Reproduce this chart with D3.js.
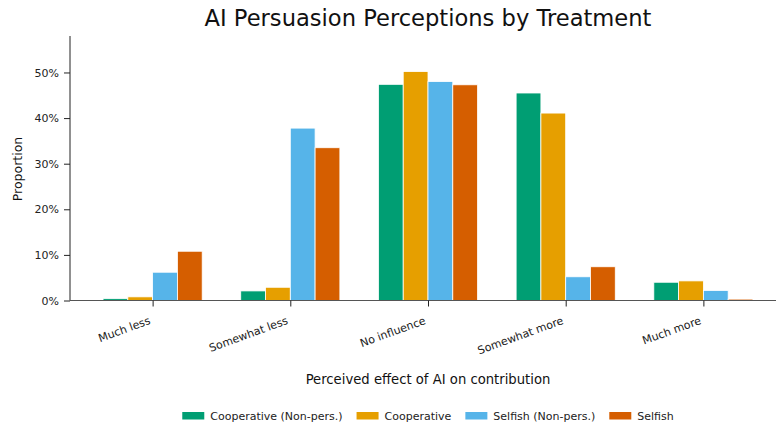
<!DOCTYPE html>
<html><head><meta charset="utf-8">
<script src="https://cdn.jsdelivr.net/npm/d3@7"></script>
<style>body{margin:0;background:#fff}svg{display:block;font-family:"DejaVu Sans",sans-serif}</style>
</head><body><svg id="c" width="776" height="428"></svg>
<script>
const categories = ["Much less","Somewhat less","No influence","Somewhat more","Much more"];
const seriesNames = ["Cooperative (Non-pers.)","Cooperative","Selfish (Non-pers.)","Selfish"];
const seriesColors = ["#009E73","#E69F00","#56B4E9","#D55E00"];
const coopNonPers = [0.004,0.021,0.474,0.455,0.040];
const coop        = [0.008,0.029,0.502,0.411,0.043];
const selfNonPers = [0.062,0.378,0.480,0.052,0.022];
const selfish     = [0.108,0.335,0.473,0.074,0.003];
const yTicks = [0,0.1,0.2,0.3,0.4,0.5];
const series = [coopNonPers, coop, selfNonPers, selfish];

const svg = d3.select("#c");
const x = d3.scaleLinear().domain([-0.6,4.6]).range([70,786]);
const y = d3.scaleLinear().domain([0,0.58]).range([300.5,36]);
const bw = 0.18;

// bars
series.forEach((vals,si)=>{
  svg.append("g").selectAll("rect").data(vals).join("rect")
    .attr("x",(d,i)=>x(i+(si-1.5)*bw-bw/2))
    .attr("width",x(bw)-x(0))
    .attr("y",d=>y(d))
    .attr("height",d=>y(0)-y(d))
    .attr("fill",seriesColors[si])
    .attr("stroke","#fff").attr("stroke-width",0.8);
});

// y axis
const ya = svg.append("g").attr("transform","translate(70,0)")
  .call(d3.axisLeft(y).tickValues(yTicks).tickFormat(d3.format(".0%")).tickSize(6).tickPadding(5));
ya.select(".domain").attr("d","M0,"+y(0)+"V36").attr("stroke","#222");
ya.selectAll(".tick line").attr("stroke","#222");
ya.selectAll("text").attr("font-size",11).attr("fill","#222").attr("font-family","DejaVu Sans");

// x axis
const xa = svg.append("g").attr("transform","translate(0,"+y(0)+")")
  .call(d3.axisBottom(x).tickValues(d3.range(categories.length)).tickFormat(i=>categories[i]).tickSize(6).tickPadding(4));
xa.select(".domain").attr("d","M70,0H786").attr("stroke","#555");
xa.selectAll(".tick line").attr("stroke","#222");
xa.selectAll(".tick text").attr("font-size",11).attr("fill","#222").attr("font-family","DejaVu Sans")
  .attr("text-anchor","end").attr("x",0).attr("y",0).attr("dy","0.78em")
  .attr("transform","translate(-5,15) rotate(-20)");

// titles
svg.append("text").attr("x",428).attr("y",26).attr("text-anchor","middle")
  .attr("font-size",22.6).attr("fill","#111").text("AI Persuasion Perceptions by Treatment");
svg.append("text").attr("x",428).attr("y",384).attr("text-anchor","middle")
  .attr("font-size",13.2).attr("fill","#111").text("Perceived effect of AI on contribution");
svg.append("text").attr("transform","translate(22,169) rotate(-90)").attr("text-anchor","middle")
  .attr("font-size",12.5).attr("fill","#111").text("Proportion");

// legend
const lg = svg.append("g").attr("font-size",11);
const widths = seriesNames.map(s=>{
  const t = lg.append("text").text(s); const w = t.node().getComputedTextLength(); t.remove(); return w;});
const patchW = 22, gap1 = 6, gap2 = 14;
const total = d3.sum(widths)+seriesNames.length*(patchW+gap1)+(seriesNames.length-1)*gap2;
let cx = 428-total/2;
seriesNames.forEach((s,i)=>{
  lg.append("rect").attr("x",cx).attr("y",412).attr("width",patchW).attr("height",7.5).attr("fill",seriesColors[i]);
  lg.append("text").attr("x",cx+patchW+gap1).attr("y",419.5).attr("fill","#222").text(s);
  cx += patchW+gap1+widths[i]+gap2;
});
</script></body></html>
